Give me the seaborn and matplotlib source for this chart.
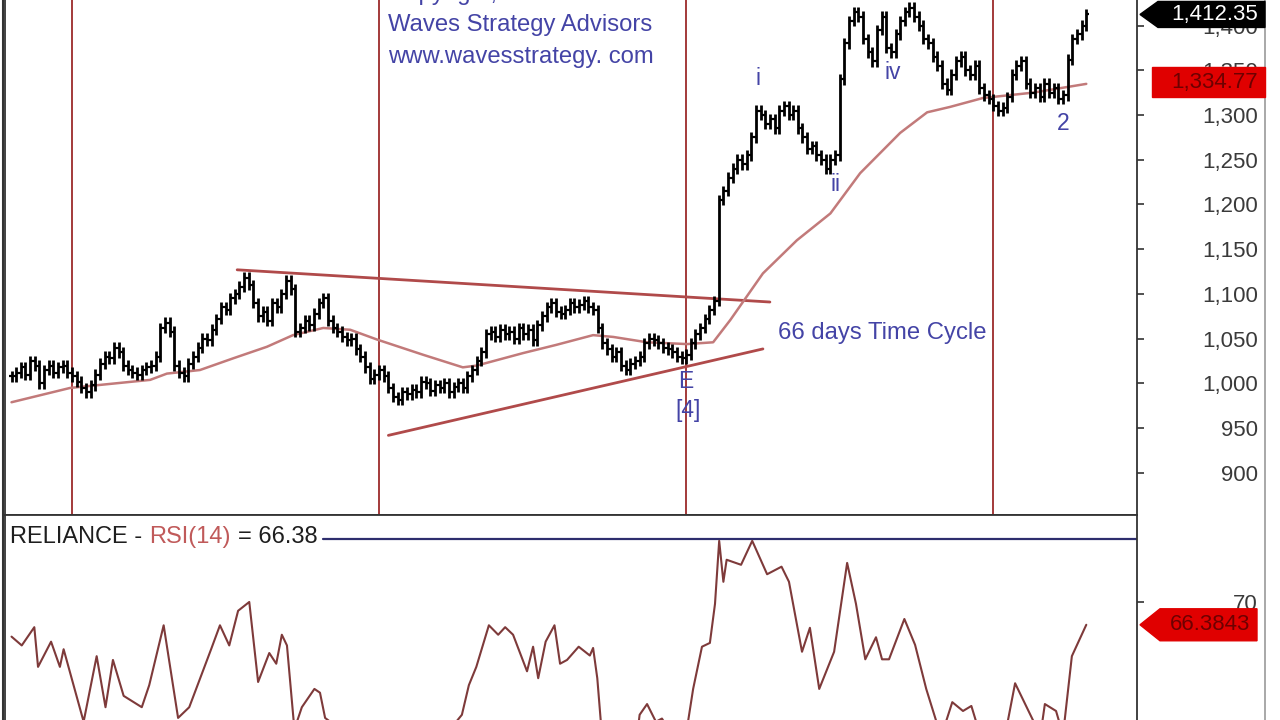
import numpy as np
import pandas as pd
import matplotlib
matplotlib.use("Agg")
import matplotlib.pyplot as plt
import seaborn as sns
from matplotlib.patches import Polygon
from matplotlib.lines import Line2D
from matplotlib.transforms import blended_transform_factory

# ---------------- data ----------------
closes = [
    1008, 1012, 1018, 1010, 1025, 1020, 1000, 1015, 1020, 1012,
    1018, 1020, 1012, 1008, 1002, 995, 990, 998, 1010, 1022,
    1030, 1028, 1040, 1035, 1020, 1015, 1012, 1010, 1015, 1018,
    1020, 1030, 1062, 1068, 1058, 1020, 1012, 1008, 1022, 1030,
    1040, 1050, 1048, 1060, 1072, 1085, 1082, 1095, 1100, 1108,
    1118, 1110, 1090, 1075, 1080, 1070, 1090, 1085, 1100, 1115,
    1105, 1058, 1062, 1070, 1065, 1078, 1090, 1095, 1070, 1062,
    1058, 1052, 1048, 1050, 1038, 1030, 1018, 1005, 1010, 1015,
    1008, 995, 985, 982, 990, 988, 993, 990, 1002, 1000,
    992, 998, 995, 1000, 990, 996, 1000, 995, 1008, 1015,
    1025, 1035, 1055, 1058, 1052, 1060, 1055, 1058, 1050, 1062,
    1055, 1060, 1048, 1065, 1075, 1085, 1090, 1080, 1078, 1082,
    1090, 1085, 1088, 1092, 1085, 1082, 1062, 1045, 1038, 1030,
    1035, 1020, 1015, 1022, 1025, 1030, 1045, 1050, 1048, 1045,
    1040, 1038, 1035, 1030, 1028, 1032, 1045, 1055, 1062, 1072,
    1082, 1092, 1205, 1215, 1230, 1240, 1250, 1245, 1255, 1275,
    1305, 1300, 1290, 1295, 1285, 1305, 1310, 1300, 1305, 1285,
    1275, 1262, 1265, 1255, 1250, 1240, 1250, 1255, 1340, 1380,
    1405, 1415, 1410, 1385, 1370, 1360, 1395, 1410, 1375, 1370,
    1390, 1405, 1415, 1420, 1410, 1400, 1385, 1380, 1365, 1355,
    1335, 1328, 1345, 1360, 1365, 1350, 1345, 1355, 1330, 1322,
    1318, 1310, 1305, 1308, 1320, 1345, 1355, 1360, 1335, 1325,
    1330, 1320, 1335, 1325, 1330, 1318, 1322, 1362, 1385, 1390,
    1400, 1412.35,
]

cycle_bars = [13, 79, 145, 211]

ma_bars = [0, 12.6, 29.8, 33.4, 40.5, 47.6, 54.9, 60.5, 67, 72.8, 78.6, 88.5, 97,
           100, 110, 117, 125, 129.3, 136.6, 145.2, 150.8, 154.5, 158, 161.5,
           168.8, 176, 182.4, 191, 196.8, 201.7, 208.8, 219.6, 231]
ma_vals = [979, 995, 1004, 1011, 1015, 1028, 1041, 1054, 1062, 1060, 1049, 1032, 1018,
           1020, 1034, 1043, 1054, 1052, 1046, 1044, 1046, 1071, 1097, 1123,
           1160, 1190, 1235, 1280, 1303, 1309, 1319, 1325, 1334.77]

trend_upper_bars = [48.5, 163]
trend_upper_vals = [1127, 1091]
trend_lower_bars = [81, 161.5]
trend_lower_vals = [942, 1038.6]

rsi_bars = [0, 2.2, 4.9, 5.7, 8.5, 10.4, 11.2, 15.5, 18.3, 20.2, 21.8, 24.1, 28, 29.6,
            32.7, 35.8, 38.2, 42.9, 44.8, 46.8, 48.7, 51.1, 53, 55.4, 56.9, 58.1,
            59.2, 60.8, 62.4, 65.1, 66.3, 67.4, 71.7, 74.9, 80.3, 84.6, 88.2, 91,
            93.6, 96.8, 98.3, 99.9, 102.6, 104.6, 106.1, 107.8, 109.3, 110.8, 112.1,
            113.2, 114.8, 116.7, 117.9, 119.4, 121.9, 124.3, 125, 125.9, 127, 129.7,
            132.5, 134.6, 135, 136.6, 138.5, 139.8, 141.8, 145, 146.5, 148.4, 150.1,
            151.2, 152.1, 153, 153.7, 156.8, 159.2, 162.4, 165.5, 167.1, 169.9,
            171.6, 173.6, 176.8, 179.6, 181.5, 183.5, 185.8, 187.1, 188.6, 191.9,
            194.2, 196.6, 199.8, 202.2, 204.5, 206.3, 208.6, 211, 213.3, 215.7,
            219.7, 221.3, 222.1, 224.5, 226, 227.9, 231]
rsi_vals = [64.5, 63.1, 66, 59.7, 63.7, 59.7, 62.5, 51, 61.4, 53.3, 60.8, 55.1, 53.3, 56.8,
            66.3, 51.6, 53.3, 62.5, 66.3, 63.1, 68.6, 70, 57.3, 61.9, 60.2, 64.8,
            63.1, 49.8, 53.3, 56.2, 55.6, 51.6, 49.2, 46, 44.5, 46.5, 49.2, 47,
            49.2, 52.1, 56.8, 59.7, 66.3, 64.8, 66, 64.8, 61.9, 59, 62.9,
            57.9, 63.7, 66.3, 60.2, 60.8, 62.9, 61.5, 62.7, 57.9, 47.9, 45.5,
            47, 49.7, 52.1, 53.8, 51, 51.5, 49.1, 49.1, 56.2, 62.9, 63.5,
            69.7, 79.7, 73.2, 76.7, 75.9, 79.7, 74.4, 75.6, 73.2, 62.1,
            65.9, 56.2, 62.1, 76.2, 69.7, 60.9, 64.4, 60.9, 60.9, 67.3,
            63.2, 56.2, 48.6, 54.1, 52.7, 53.5, 47.9, 46.5, 47.9, 57.1,
            51, 49.7, 53.8, 52.7, 48.9, 61.4, 66.38]

price_ticks = [900, 950, 1000, 1050, 1100, 1150, 1200, 1250, 1300, 1350, 1400]
rsi_ticks = [70]
last_close_label = "1,412.35"
ma_label = "1,334.77"
rsi_label = "66.3843"

wave_labels = [("i", 160.5, 1341), ("ii", 177, 1222), ("iv", 189.5, 1347),
               ("2", 226, 1290), ("E", 145, 1002), ("[4]", 145.4, 970)]

# ---------------- style ----------------
sns.set_theme(style="white")
plt.rcParams['font.family'] = ['Liberation Sans', 'DejaVu Sans']

W, H = 1280, 720
fig = plt.figure(figsize=(12.8, 7.2), dpi=100)
fig.patch.set_facecolor('white')
ax = fig.add_axes([5 / W, 205 / H, 1132 / W, 515 / H])
ax2 = fig.add_axes([5 / W, 0, 1132 / W, 205 / H])

blue = '#4444a6'
cyc_col = '#a33a3a'
trend_col = '#b04a4a'
ma_col = '#c27a7a'

# ---------------- price panel ----------------
n = len(closes)
idx = np.arange(n)
cl = np.array(closes, dtype=float)
op = np.concatenate([[cl[0]], cl[:-1]])
wick = 6.0
hi = np.maximum(op, cl) + wick
lo = np.minimum(op, cl) - wick

ax.set_xlim(-1.4, 241.9)
ax.set_ylim(853, 1428.5)

for b in cycle_bars:
    ax.axvline(b, color=cyc_col, lw=1.4, zorder=1)

ax.plot(trend_upper_bars, trend_upper_vals, color=trend_col, lw=2.0, zorder=2)
ax.plot(trend_lower_bars, trend_lower_vals, color=trend_col, lw=2.0, zorder=2)

ma_df = pd.DataFrame({'bar': ma_bars, 'ma': ma_vals})
sns.lineplot(data=ma_df, x='bar', y='ma', ax=ax, color=ma_col, lw=1.8, zorder=2,
             estimator=None, sort=False)

ax.vlines(idx, lo, hi, color='black', lw=2.0, zorder=3)
ax.hlines(op, idx - 0.5, idx, color='black', lw=1.6, zorder=3)
ax.hlines(cl, idx, idx + 0.5, color='black', lw=1.6, zorder=3)

for s, bx, by in wave_labels:
    ax.text(bx, by, s, color=blue, fontsize=16.5, ha='center', va='center', zorder=4)

ax.text(164.7, 1056, "66 days Time Cycle", color=blue, fontsize=17.2, ha='left',
        va='center', zorder=4)

ax.set_xticks([])
ax.set_yticks(price_ticks)
ax.set_yticklabels([f"{v:,}" for v in price_ticks])
ax.yaxis.tick_right()
ax.tick_params(axis='y', right=True, left=False, labelright=True, labelleft=False,
               length=5, width=1.2, color='#333333', pad=82, labelsize=16,
               labelcolor='#3a3a3a')
for lbl in ax.get_yticklabels():
    lbl.set_ha('right')
ax.set_ylabel('')
ax.set_xlabel('')
ax.spines['top'].set_visible(False)
for sp in ['left', 'right', 'bottom']:
    ax.spines[sp].set_color('#333333')
    ax.spines[sp].set_linewidth(1.3)

# ---------------- RSI panel ----------------
ax2.set_xlim(-1.4, 241.9)
ax2.set_ylim(51.27, 83.8)
ax2.axhline(80, xmin=(323 - 5) / 1132, xmax=1, color='#2e2e6e', lw=1.6)
rsi_df = pd.DataFrame({'bar': rsi_bars, 'rsi': rsi_vals})
sns.lineplot(data=rsi_df, x='bar', y='rsi', ax=ax2, color='#7e3a3a', lw=1.5,
             estimator=None, sort=False)
ax2.set_xticks([])
ax2.set_yticks(rsi_ticks)
ax2.set_yticklabels([str(v) for v in rsi_ticks])
ax2.yaxis.tick_right()
ax2.tick_params(axis='y', right=True, left=False, labelright=True, labelleft=False,
                length=5, width=1.2, color='#333333', pad=82, labelsize=16,
                labelcolor='#3a3a3a')
for lbl in ax2.get_yticklabels():
    lbl.set_ha('right')
ax2.set_ylabel('')
ax2.set_xlabel('')
ax2.spines['bottom'].set_visible(False)
for sp in ['left', 'right', 'top']:
    ax2.spines[sp].set_color('#333333')
    ax2.spines[sp].set_linewidth(1.3)

# ---------------- header texts ----------------
fig.text(388 / W, 1 + 6 / H, "Copyright, June 2017", color=blue, fontsize=17.2,
         ha='left', va='center')
fig.text(388 / W, 1 - 25 / H, "Waves Strategy Advisors", color=blue, fontsize=17.2,
         ha='left', va='center')
fig.text(388 / W, 1 - 57 / H, "www.wavesstrategy. com", color=blue, fontsize=17.2,
         ha='left', va='center')

renderer = fig.canvas.get_renderer()
ty = 1 - 537 / H
t1 = fig.text(10 / W, ty, "RELIANCE -", color='#1e1e1e', fontsize=17, ha='left', va='center')
x1 = t1.get_window_extent(renderer).x1
t2 = fig.text((x1 + 7) / W, ty, "RSI(14)", color='#c05a5a', fontsize=17, ha='left', va='center')
x2 = t2.get_window_extent(renderer).x1
fig.text((x2 + 7) / W, ty, "= 66.38", color='#1e1e1e', fontsize=17, ha='left', va='center')

# ---------------- value tags ----------------
def tag(axis, value, text, fc, tc, x_right, arrow, half_h, x_tip=1140, x_body=1158,
        x_text=1258):
    pos = axis.get_position()
    y0, y1 = axis.get_ylim()
    ppx = (y1 - y0) / (pos.height * H)
    tr = blended_transform_factory(fig.transFigure, axis.transData)
    h = half_h * ppx
    if arrow:
        pts = [(x_tip, value), (x_body, value + h), (x_right, value + h),
               (x_right, value - h), (x_body, value - h)]
    else:
        pts = [(x_body, value + h), (x_right, value + h), (x_right, value - h),
               (x_body, value - h)]
    pts = [(px / W, py) for px, py in pts]
    poly = Polygon(pts, closed=True, facecolor=fc, edgecolor=fc, transform=tr,
                   clip_on=False, zorder=6)
    fig.add_artist(poly)
    fig.text(x_text / W, value, text, color=tc, fontsize=16, ha='right', va='center',
             transform=tr, zorder=7)

tag(ax, cl[-1], last_close_label, 'black', 'white', 1265, True, 13)
tag(ax, ma_vals[-1] + 2, ma_label, '#e00000', '#6e0000', 1265, False, 15, x_body=1152)
tag(ax2, rsi_vals[-1], rsi_label, '#e00000', '#6e0000', 1257, True, 16, x_body=1160,
    x_text=1250)

fig.add_artist(Line2D([1265 / W, 1265 / W], [0, 1], color='#9a9a9a', lw=1.2))
fig.add_artist(Line2D([3 / W, 3 / W], [0, 1], color='#333333', lw=1.5))

fig.savefig("out.png", dpi=100, facecolor='white')
